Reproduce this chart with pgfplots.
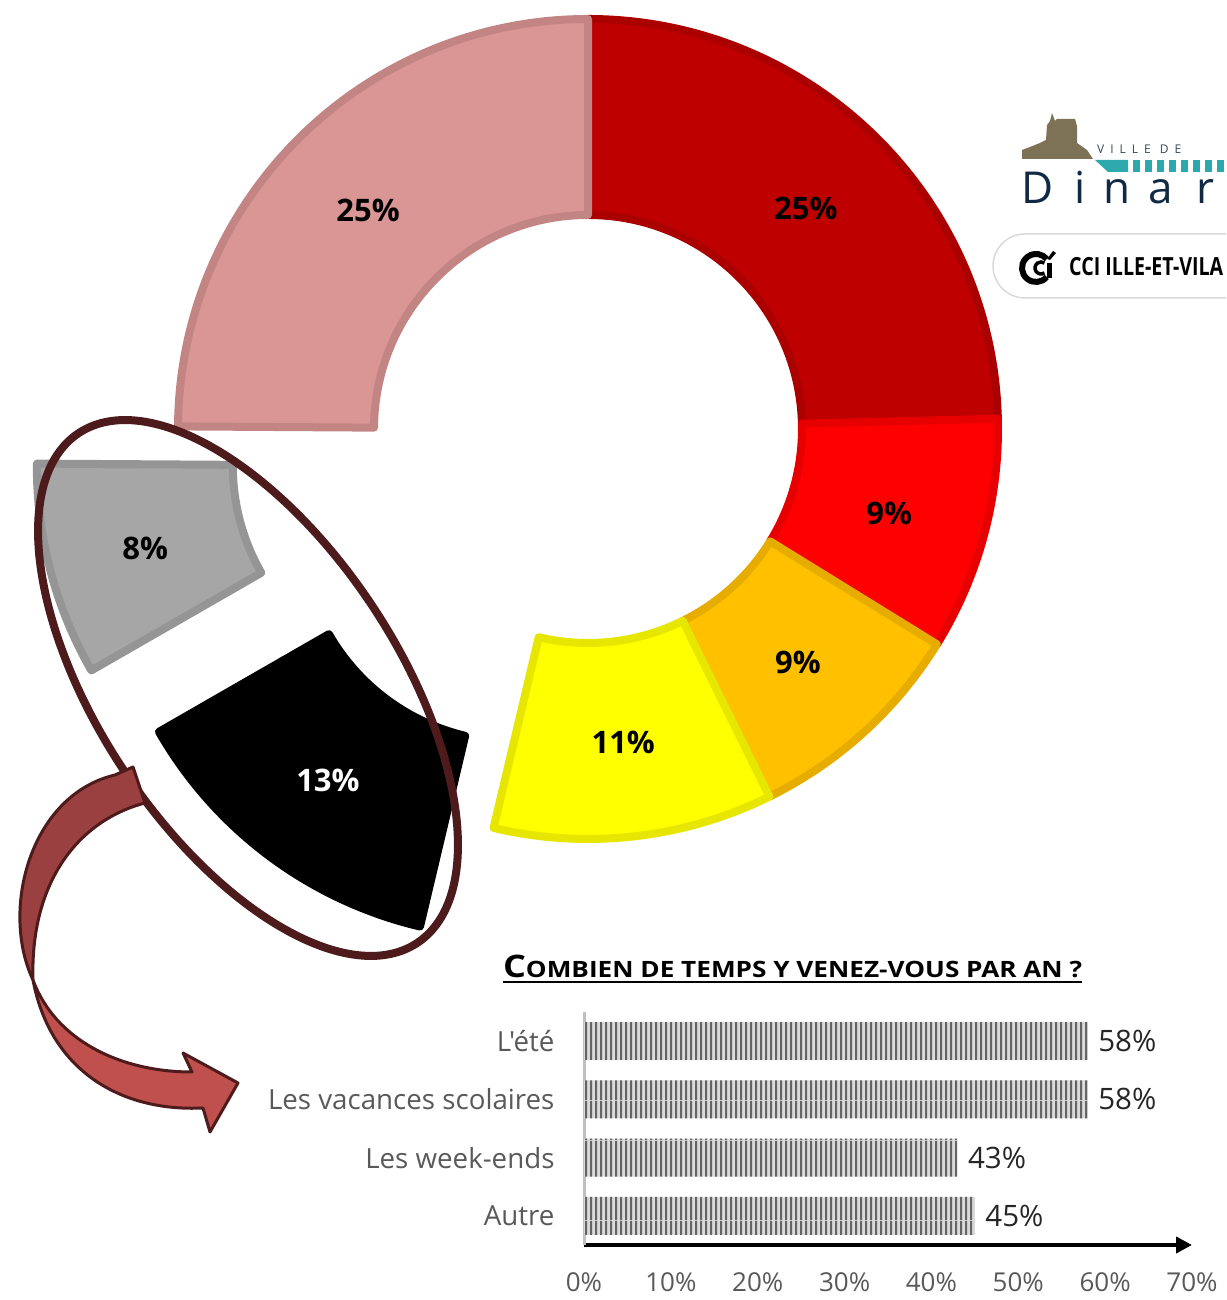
\documentclass[border=0pt]{standalone}
\usepackage{fontspec}
\setmainfont{Open Sans}
\usepackage{graphicx}
\usepackage{pgfplots}
\pgfplotsset{compat=1.18}
\usetikzlibrary{patterns,arrows.meta}

\definecolor{cRed}{HTML}{BE0000}
\definecolor{cRedB}{HTML}{AA0000}
\definecolor{cBright}{HTML}{FF0000}
\definecolor{cBrightB}{HTML}{E60000}
\definecolor{cOrange}{HTML}{FFC000}
\definecolor{cOrangeB}{HTML}{E6AD00}
\definecolor{cYellow}{HTML}{FFFF00}
\definecolor{cYellowB}{HTML}{E6E600}
\definecolor{cGray}{HTML}{A6A6A6}
\definecolor{cGrayB}{HTML}{959595}
\definecolor{cPink}{HTML}{D99694}
\definecolor{cPinkB}{HTML}{C38584}
\definecolor{ellc}{HTML}{4D1B1B}
\definecolor{arrDark}{HTML}{9B4040}
\definecolor{arrLight}{HTML}{C0504D}
\definecolor{tickc}{HTML}{595959}
\definecolor{brownc}{HTML}{7D7256}
\definecolor{tealc}{HTML}{2BA9AC}
\definecolor{navy}{HTML}{102A43}
\definecolor{barbg}{HTML}{DADADA}
\definecolor{barfg}{HTML}{646464}

\pgfdeclarepatternformonly{vstripes}{\pgfqpoint{0pt}{0pt}}{\pgfqpoint{4.5pt}{40pt}}{\pgfqpoint{4.5pt}{40pt}}{%
  \pgfpathrectangle{\pgfqpoint{0pt}{0pt}}{\pgfqpoint{2.3pt}{40pt}}\pgfusepath{fill}}

\tikzset{slicelab/.style={font=\fontsize{31}{36}\selectfont\bfseries}}

\begin{document}
\begin{tikzpicture}[x=1pt,y=1pt]
\useasboundingbox (0,0) rectangle (1226,1300);
\clip (0,0) rectangle (1226,1300);

% ---------------- donut ----------------
\begin{axis}[at={(0pt,0pt)}, anchor=south west, scale only axis,
  width=1226pt, height=1300pt, xmin=0, xmax=1226, ymin=0, ymax=1300,
  axis lines=none, clip=false]
\gdef\curang{90}
% value / fill / border / explode / label / text colour
\foreach \v/\fc/\bc/\ex/\lab/\tc in {
  24.6/cRed/cRedB/0/25/black,
  9.2/cBright/cBrightB/0/9/black,
  8.9/cOrange/cOrangeB/0/9/black,
  11.0/cYellow/cYellowB/0/11/black,
  13.0/black/black/123/13/white,
  8.4/cGray/cGrayB/146/8/black,
  24.9/cPink/cPinkB/0/25/black}{
  \pgfmathsetmacro\s{\curang}
  \pgfmathsetmacro\e{\s-3.6*\v}
  \pgfmathsetmacro\m{(\s+\e)/2}
  \pgfmathsetmacro\cx{588+\ex*cos(\m)}
  \pgfmathsetmacro\cy{871+\ex*sin(\m)}
  \pgfmathsetmacro\lx{\cx+312*cos(\m)}
  \pgfmathsetmacro\ly{\cy+312*sin(\m)-3}
  \edef\doslice{\noexpand\filldraw[fill=\fc, draw=\bc, line width=8pt, line join=round]
    ([shift={(\s:214pt)}]axis cs:\cx,\cy) -- ([shift={(\s:410pt)}]axis cs:\cx,\cy)
    arc[start angle=\s, end angle=\e, radius=410pt]
    -- ([shift={(\e:214pt)}]axis cs:\cx,\cy)
    arc[start angle=\e, end angle=\s, radius=214pt] -- cycle;
    \noexpand\node[slicelab, text=\tc] at (axis cs:\lx,\ly) {\lab\noexpand\%};}
  \doslice
  \xdef\curang{\e}
}
\end{axis}

% ---------------- ellipse and arrow (pixel coordinates) ----------------
\begin{scope}[shift={(0,1300)}, yscale=-1]
\draw[ellc, line width=8pt, rotate around={56.4:(248,688)}] (248,688) ellipse [x radius=306, y radius=149];
% upper (dark) part of the ribbon arrow
\filldraw[fill=arrDark, draw=ellc, line width=3pt, line join=round]
  (115,775) -- (133,767) -- (145,803)
  .. controls (80,820) and (30,880) .. (33,980)
  .. controls (0,910) and (30,795) .. (115,775) -- cycle;
% lower (light) part with head
\filldraw[fill=arrLight, draw=ellc, line width=3pt, line join=round]
  (33,980) .. controls (55,1040) and (120,1072) .. (192,1072)
  -- (183,1053) -- (238,1083) -- (210,1132) -- (203,1108)
  .. controls (120,1112) and (50,1070) .. (33,980) -- cycle;

% title
\node[anchor=base, inner sep=0pt] at (792.5,978) {\resizebox{579pt}{\height}{\bfseries{\fontsize{31}{36}\selectfont C}{\fontsize{22.5}{26}\selectfont OMBIEN DE TEMPS Y VENEZ-VOUS PAR AN ?}}};
\draw[line width=2.5pt] (503,982) -- (1082,982);

% Ville de Dinard logo
\fill[brownc] (1022,159) -- (1022,150) -- (1030,147) -- (1040,143) -- (1046,140) -- (1047,125)
  -- (1050,121) -- (1052,113) -- (1055,121) -- (1057,119) -- (1075,119) -- (1077,126)
  -- (1077,143) -- (1087,150) -- (1093,159) -- cycle;
\fill[tealc] (1095,160) -- (1128,160) -- (1128,172) -- (1108,172) -- cycle;
\foreach \x in {1133,1145,...,1225} \fill[tealc] (\x,160) rectangle ++(7,12);
\node[anchor=base west, inner sep=0pt, text=navy!85, font=\fontsize{12}{14}\selectfont\addfontfeature{LetterSpace=50}] at (1097,154) {VILLE DE};
\foreach \xx/\ch in {1021/D,1074/i,1103/n,1148/a,1196/r}
  \node[anchor=base west, inner sep=0pt, text=navy, font=\fontsize{44}{50}\selectfont] at (\xx,204) {\ch};

% CCI box
\draw[black!15, line width=1.5pt, rounded corners=32] (1240,234) -- (993,234) -- (993,298) -- (1240,298);
\draw[line width=6pt] ([shift={(40:14)}]1036,268) arc[start angle=40, end angle=320, radius=14];
\draw[line width=3.5pt] ([shift={(55:6)}]1041,268) arc[start angle=55, end angle=305, radius=6];
\fill (1047,263) rectangle (1052,278);
\fill (1047,259) -- (1053,251) -- (1056,253) -- (1050,260) -- cycle;
\node[anchor=base west, inner sep=0pt, font=\fontsize{25}{28}\selectfont\bfseries] at (1069,276) {\resizebox{154pt}{\height}{CCI ILLE-ET-VILA}};
\end{scope}

% ---------------- bar chart ----------------
\begin{axis}[at={(584pt,55pt)}, anchor=south west, scale only axis,
  width=608pt, height=233pt,
  xmin=0, xmax=70, ymin=0.5, ymax=4.5,
  xbar, bar width=38pt,
  axis x line=bottom, axis y line=left,
  x axis line style={line width=4pt, black, -{Triangle[length=16pt,width=16pt]}},
  y axis line style={line width=3pt, black!25, -},
  xtick={0,10,20,30,40,50,60,70},
  xticklabels={0\%,10\%,20\%,30\%,40\%,50\%,60\%,70\%},
  ytick={1,2,3,4},
  yticklabels={Autre,Les week-ends,Les vacances scolaires,{\addfontfeature{Ligatures=TeXOff}L'été}},
  major tick length=0pt,
  xticklabel style={font=\fontsize{26}{30}\selectfont, text=tickc, yshift=-24pt},
  yticklabel style={font=\fontsize{27.7}{32}\selectfont, text=tickc, xshift=-26pt},
  /pgf/number format/assume math mode=true,
  point meta=x,
  nodes near coords={\pgfmathprintnumber{\pgfplotspointmeta}\%},
  nodes near coords style={font=\fontsize{29.5}{34}\selectfont, text=black!85, anchor=west, xshift=7pt},
  clip=false]
\addplot[draw=none, preaction={fill=barbg}, pattern=vstripes, pattern color=barfg]
  coordinates {(45,1) (43,2) (58,3) (58,4)};
\end{axis}
\end{tikzpicture}
\end{document}
